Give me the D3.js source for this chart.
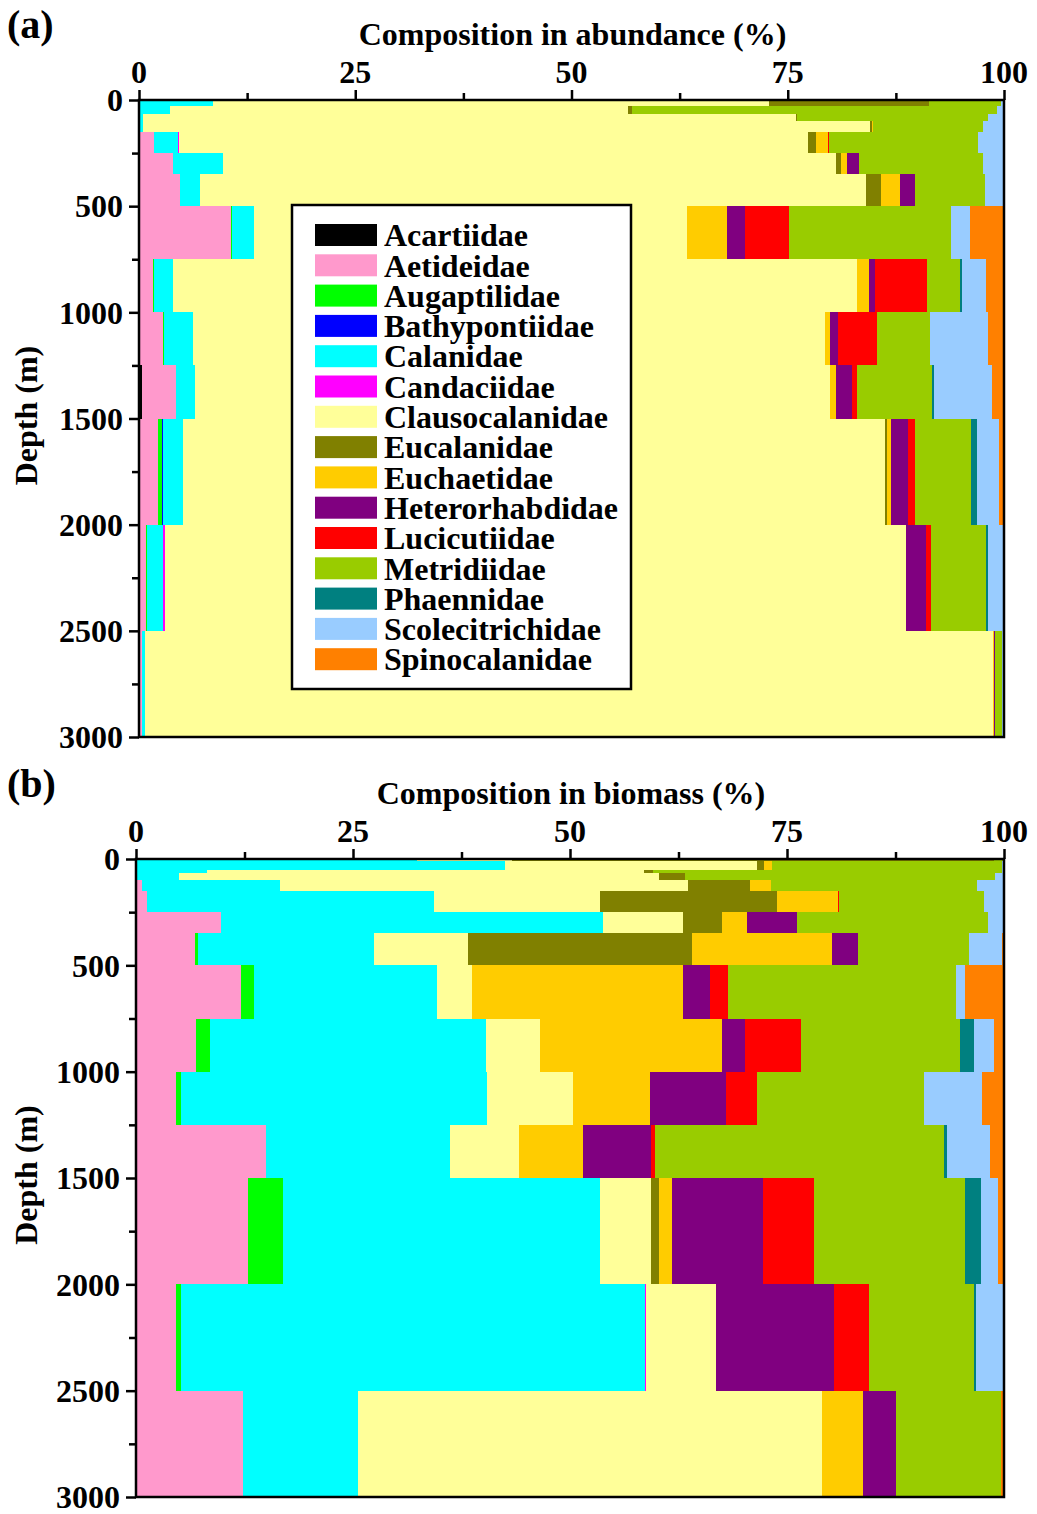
<!doctype html>
<html>
<head>
<meta charset="utf-8">
<script src="https://d3js.org/d3.v7.min.js"></script>
<style>
  body { margin: 0; background: #fff; }
  text { font-family: "Liberation Serif", "Times New Roman", serif; font-weight: bold; fill: #000; }
</style>
</head>
<body>
<div id="chart"></div>
<script>
// copepod families, stacked left to right
var families = ["Acartiidae", "Aetideidae", "Augaptilidae", "Bathypontiidae", "Calanidae",
  "Candaciidae", "Clausocalanidae", "Eucalanidae", "Euchaetidae", "Heterorhabdidae",
  "Lucicutiidae", "Metridiidae", "Phaennidae", "Scolecitrichidae", "Spinocalanidae"];
var colors = ["#000000", "#ff99cc", "#00ff00", "#0000ff", "#00ffff",
  "#ff00ff", "#ffff99", "#808000", "#ffcc00", "#800080",
  "#ff0000", "#99cc00", "#008080", "#99ccff", "#ff8000"];

var xTicks = [0, 25, 50, 75, 100];
var yTicks = [0, 500, 1000, 1500, 2000, 2500, 3000];

// depth layer limits (m)
var depthA = [0, 30, 65, 100, 150, 250, 350, 500, 750, 1000, 1250, 1500, 2000, 2500, 3000];
var depthB = [0, 10, 50, 65, 100, 150, 250, 350, 500, 750, 1000, 1250, 1500, 2000, 2500, 3000];

// (a) abundance %, one row per layer, columns in family order
var abundance = [
  [0, 0, 0, 0, 8.6, 0, 64.2, 18.5, 0, 0, 0, 8.3, 0, 0.4, 0],
  [0, 0, 0, 0, 3.6, 0, 52.9, 0.5, 0, 0, 0, 42.2, 0, 0.8, 0],
  [0, 0, 0, 0, 0.5, 0, 75.4, 0.2, 0, 0, 0, 22.1, 0, 1.8, 0],
  [0, 0, 0, 0, 0.5, 0, 84.0, 0.2, 0.1, 0, 0, 12.8, 0, 2.4, 0],
  [0, 1.7, 0, 0, 2.8, 0.1, 72.7, 1.0, 1.3, 0, 0.2, 17.2, 0, 3.0, 0],
  [0, 3.9, 0, 0, 5.8, 0, 70.9, 0.6, 0.7, 1.3, 0, 14.4, 0, 2.4, 0],
  [0, 4.7, 0, 0, 2.4, 0, 77.0, 1.7, 2.2, 1.7, 0, 8.1, 0, 2.2, 0],
  [0, 10.6, 0.15, 0, 2.5, 0, 50.05, 0, 4.7, 2.0, 5.2, 18.7, 0, 2.2, 3.9],
  [0, 1.6, 0.1, 0, 2.2, 0, 79.15, 0, 1.3, 0.7, 6.0, 3.9, 0.15, 2.8, 2.1],
  [0, 2.8, 0.1, 0, 3.4, 0, 73.0, 0, 0.6, 0.9, 4.5, 6.1, 0, 6.8, 1.8],
  [0.3, 4.0, 0, 0, 2.2, 0, 73.4, 0, 0.7, 1.8, 0.6, 8.7, 0.2, 6.7, 1.4],
  [0, 2.2, 0.5, 0.1, 2.3, 0, 81.1, 0.3, 0.4, 2.0, 0.8, 6.5, 0.7, 2.5, 0.6],
  [0, 0.8, 0.1, 0, 1.9, 0.15, 85.8, 0, 0, 2.3, 0.55, 6.4, 0.15, 1.9, 0],
  [0, 0.35, 0, 0, 0.35, 0, 98.05, 0, 0.1, 0.15, 0, 0.8, 0, 0.1, 0.1]
];

// (b) biomass %
var biomass = [
  [0, 0, 0, 0, 32.4, 0, 10.9, 55.6, 0, 0, 0, 1.1, 0, 0, 0],
  [0, 0, 0, 0, 42.5, 0, 29.1, 0.8, 0.9, 0, 0, 26.5, 0, 0.2, 0],
  [0, 0, 0, 0, 8.2, 0, 50.3, 1.1, 0, 0, 0, 40.2, 0, 0.2, 0],
  [0, 0, 0, 0, 4.9, 0, 55.3, 3.1, 0, 0, 0, 35.7, 0, 1.0, 0],
  [0, 0.7, 0, 0, 15.9, 0, 47.0, 7.1, 2.5, 0, 0, 23.7, 0, 3.1, 0],
  [0, 1.3, 0, 0, 33.1, 0, 19.1, 20.4, 7.0, 0, 0.2, 16.7, 0, 2.3, 0],
  [0, 9.8, 0, 0, 44.0, 0, 9.2, 4.5, 2.9, 5.8, 0, 21.9, 0, 1.9, 0],
  [0, 6.8, 0.3, 0, 20.3, 0, 10.9, 25.7, 16.2, 3.0, 0, 12.8, 0, 3.8, 0.2],
  [0, 12.1, 1.5, 0, 21.1, 0, 4.0, 0, 24.3, 3.1, 2.1, 26.3, 0, 1.0, 4.5],
  [0, 6.9, 1.6, 0, 31.8, 0, 6.2, 0, 21.0, 2.7, 6.4, 18.3, 1.6, 2.3, 1.2],
  [0, 4.6, 0.6, 0, 35.2, 0, 10.0, 0, 8.8, 8.8, 3.6, 19.2, 0, 6.7, 2.5],
  [0, 15.0, 0, 0, 21.1, 0, 8.0, 0, 7.4, 7.8, 0.45, 33.3, 0.3, 5.0, 1.6],
  [0, 12.9, 4.0, 0, 36.6, 0, 5.8, 0.9, 1.6, 10.4, 5.9, 17.4, 1.8, 2.0, 0.7],
  [0, 4.6, 0.6, 0, 53.4, 0.1, 8.1, 0, 0, 13.6, 4.1, 12.0, 0.3, 3.2, 0],
  [0, 12.3, 0, 0, 13.3, 0, 53.4, 0, 4.7, 3.9, 0, 12.0, 0, 0, 0.4]
];

var W = 1037, H = 1514;
var FS = 32;
var svg = d3.select("#chart").append("svg").attr("width", W).attr("height", H);
svg.append("rect").attr("width", W).attr("height", H).attr("fill", "#fff");

var color = d3.scaleOrdinal().domain(families).range(colors);

function drawPanel(p) {
  var x = d3.scaleLinear().domain([0, 100]).range([p.left, p.right]);
  var y = d3.scaleLinear().domain([0, 3000]).range([p.top, p.bottom]);

  // build table rows for d3.stack
  var table = p.rows.map(function (r, i) {
    var o = { top: p.depth[i], bot: p.depth[i + 1] };
    var tot = d3.sum(r);
    families.forEach(function (f, j) { o[f] = r[j] / tot * 100; });
    return o;
  });
  var series = d3.stack().keys(families)(table);

  var g = svg.append("g");
  series.forEach(function (s) {
    g.selectAll(null).data(s).enter().append("rect")
      .attr("x", function (d) { return x(d[0]); })
      .attr("width", function (d) { return Math.max(0, x(d[1]) - x(d[0])); })
      .attr("y", function (d) { return y(d.data.top); })
      .attr("height", function (d) { return y(d.data.bot) - y(d.data.top); })
      .attr("fill", color(s.key))
      .attr("shape-rendering", "crispEdges");
  });

  // top axis, minor ticks every 12.5
  var xa = svg.append("g").attr("transform", "translate(0," + p.top + ")")
    .call(d3.axisTop(x).tickValues(d3.range(0, 100.1, 12.5)).tickSize(7).tickFormat(""));
  xa.select(".domain").remove();
  xa.selectAll("line").attr("stroke", "#000").attr("stroke-width", 2.5);
  xa.selectAll("line").filter(function (d) { return d % 25 === 0; }).attr("y2", -10);
  xTicks.forEach(function (t) {
    svg.append("text").attr("x", x(t)).attr("y", p.top - 17)
      .attr("text-anchor", "middle").attr("font-size", FS).text(t);
  });

  // left axis, minor ticks every 250
  var ya = svg.append("g").attr("transform", "translate(" + p.left + ",0)")
    .call(d3.axisLeft(y).tickValues(d3.range(0, 3001, 250)).tickSize(7).tickFormat(""));
  ya.select(".domain").remove();
  ya.selectAll("line").attr("stroke", "#000").attr("stroke-width", 2.5);
  ya.selectAll("line").filter(function (d) { return d % 500 === 0; }).attr("x2", -10);
  yTicks.forEach(function (t) {
    svg.append("text").attr("x", p.left - 16).attr("y", y(t)).attr("dy", "0.35em")
      .attr("text-anchor", "end").attr("font-size", FS).text(t);
  });

  svg.append("rect").attr("x", p.left).attr("y", p.top)
    .attr("width", p.right - p.left).attr("height", p.bottom - p.top)
    .attr("fill", "none").attr("stroke", "#000").attr("stroke-width", 2.5);

  svg.append("text").attr("x", (p.left + p.right) / 2 + 1).attr("y", p.top - 55)
    .attr("text-anchor", "middle").attr("font-size", FS).text(p.title);
  svg.append("text").attr("x", 7).attr("y", p.top - 62)
    .attr("font-size", 40).text(p.letter);
  svg.append("text").attr("transform", "translate(37," + ((p.top + p.bottom) / 2 - 3) + ") rotate(-90)")
    .attr("text-anchor", "middle").attr("font-size", FS).text("Depth (m)");
  return { x: x, y: y };
}

drawPanel({ left: 139, right: 1004, top: 100, bottom: 737, rows: abundance, depth: depthA,
  title: "Composition in abundance (%)", letter: "(a)" });
drawPanel({ left: 136, right: 1004, top: 859, bottom: 1497, rows: biomass, depth: depthB,
  title: "Composition in biomass (%)", letter: "(b)" });

// legend inside panel (a)
var lg = svg.append("g").attr("transform", "translate(292,205)");
lg.append("rect").attr("width", 339).attr("height", 484)
  .attr("fill", "#fff").attr("stroke", "#000").attr("stroke-width", 2.5);
families.forEach(function (f, i) {
  var yy = 30 + i * 30.3;
  lg.append("rect").attr("x", 23).attr("y", yy - 11).attr("width", 62).attr("height", 22)
    .attr("fill", color(f));
  lg.append("text").attr("x", 92).attr("y", yy).attr("dy", "0.35em")
    .attr("font-size", FS).text(f);
});
</script>
</body>
</html>
